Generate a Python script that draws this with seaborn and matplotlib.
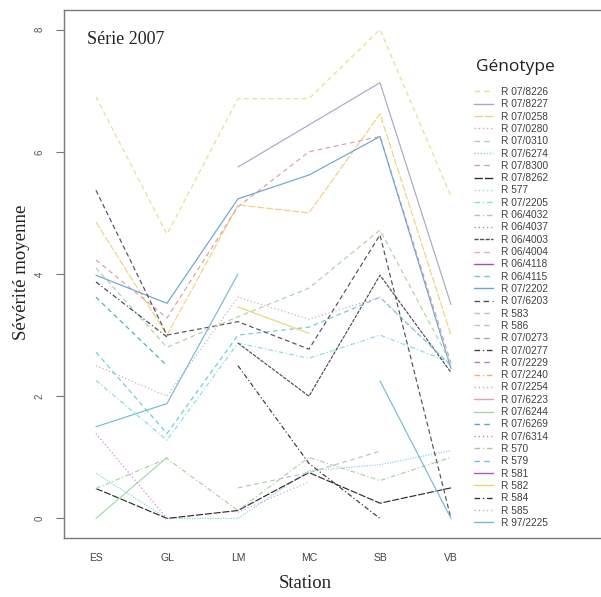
import numpy as np
import pandas as pd
import matplotlib
matplotlib.use("Agg")
import matplotlib.pyplot as plt
from matplotlib.lines import Line2D
import seaborn as sns

nan = np.nan

stations = ["ES", "GL", "LM", "MC", "SB", "VB"]

genotypes = [
    "R 07/8226", "R 07/8227", "R 07/0258", "R 07/0280", "R 07/0310", "R 07/6274",
    "R 07/8300", "R 07/8262", "R 577", "R 07/2205", "R 06/4032", "R 06/4037",
    "R 06/4003", "R 06/4004", "R 06/4118", "R 06/4115", "R 07/2202", "R 07/6203",
    "R 583", "R 586", "R 07/0273", "R 07/0277", "R 07/2229", "R 07/2240",
    "R 07/2254", "R 07/6223", "R 07/6244", "R 07/6269", "R 07/6314", "R 570",
    "R 579", "R 581", "R 582", "R 584", "R 585", "R 97/2225",
]

colors = [
    "#ecdc8a", "#aaa6c6", "#f2d27a", "#d2a8b8", "#b6cdb2", "#86d2e2",
    "#e09cae", "#2e2e2e", "#92d4e2", "#88dce8", "#a6d2a0", "#8c9cbc",
    "#4e4e58", "#e8a8c4", "#b048b4", "#6ccadc", "#68a8d4", "#52525e",
    "#c2bec2", "#a8d4a4", "#a8a8b2", "#42424c", "#b678d2", "#f0b65a",
    "#c6acbc", "#e89cc2", "#a6d8a6", "#58a8c2", "#d67ed2", "#a6c4b2",
    "#66c8e0", "#b058c2", "#f2d26e", "#383842", "#ccaecc", "#76bada",
]

styles = [
    (4, 3), "", (6, 1.5), (1, 2), (4, 3), (1, 1.2),
    (4, 3), (6, 1.5), (1, 2), (4, 2, 1, 2), (4, 2, 1, 2), (1, 2),
    (3, 1), (4, 3), "", (4, 3), "", (4, 2.5),
    (4, 3), (4, 3), (4, 3), (4, 2, 1, 2), (4, 3), (4, 2, 1, 2),
    (1, 2), "", "", (4, 3), (1, 2), (4, 2, 1, 2),
    (4, 3), "", "", (4, 2, 1, 2), (1, 2), "",
]

# mean severity per station (ES, GL, LM, MC, SB, VB)
r07_8226 = [6.9, 4.65, 6.87, 6.87, 8.0, 5.27]
r07_8227 = [nan, nan, 5.75, 6.44, 7.13, 3.5]
r07_0258 = [4.85, 3.0, 5.13, 5.0, 6.62, 3.0]
r07_0280 = [2.5, 2.0, 3.62, 3.26, 3.62, 2.5]
r07_6274 = [0.74, 0.0, 0.0, 0.78, 0.88, 1.11]
r07_8300 = [4.23, 3.28, 5.1, 6.0, 6.25, 2.54]
r07_8262 = [0.49, 0.0, 0.13, 0.75, 0.25, 0.5]
r07_2205 = [2.26, 1.28, 2.87, 2.62, 3.0, 2.55]
r06_4032 = [0.49, 0.98, 0.13, 1.0, 0.62, 1.0]
r06_4003 = [nan, nan, 2.87, 2.0, 3.98, 2.39]
r06_4115 = [2.72, 1.39, 3.0, 3.13, 3.62, 2.5]
r07_2202 = [3.98, 3.52, 5.23, 5.62, 6.25, 2.45]
r07_6203 = [5.37, 3.0, 3.22, 2.77, 4.64, 0.0]
r583 = [nan, nan, 0.5, 0.75, 1.1, nan]
r586 = [4.1, 2.8, 3.3, 3.77, 4.72, 2.54]
r07_0277 = [3.87, 2.97, nan, nan, nan, nan]
r07_6244 = [0.0, 1.0, nan, nan, nan, nan]
r07_6269 = [3.62, 2.5, nan, nan, nan, nan]
r07_6314 = [1.39, 0.0, nan, nan, nan, nan]
r582 = [nan, nan, 3.46, 3.03, nan, nan]
r584 = [nan, nan, 2.5, 0.9, 0.0, nan]
r585 = [nan, nan, 0.1, 0.6, nan, nan]
r97_2225 = [1.5, 1.88, 4.0, nan, 2.25, 0.0]

severity = {
    "R 07/8226": r07_8226, "R 07/8227": r07_8227, "R 07/0258": r07_0258,
    "R 07/0280": r07_0280, "R 07/6274": r07_6274, "R 07/8300": r07_8300,
    "R 07/8262": r07_8262, "R 07/2205": r07_2205, "R 06/4032": r06_4032,
    "R 06/4003": r06_4003, "R 06/4115": r06_4115, "R 07/2202": r07_2202,
    "R 07/6203": r07_6203, "R 583": r583, "R 586": r586, "R 07/0277": r07_0277,
    "R 07/6244": r07_6244, "R 07/6269": r07_6269, "R 07/6314": r07_6314,
    "R 582": r582, "R 584": r584, "R 585": r585, "R 97/2225": r97_2225,
}

# long table, one "segment" per unbroken run (NA breaks the line like in R)
rows = []
for g, vals in severity.items():
    seg = 0
    gap = True
    for i, v in enumerate(vals):
        if np.isnan(v):
            gap = True
            continue
        if gap:
            seg += 1
        gap = False
        rows.append({"genotype": g, "segment": f"{g}#{seg}", "pos": i, "value": v})
df = pd.DataFrame(rows)

sns.set_style("white")
plt.rcParams["font.family"] = ["Liberation Sans", "DejaVu Sans"]

W, H = 601, 597
fig = plt.figure(figsize=(W / 100, H / 100), dpi=100)
ax = fig.add_axes([64 / W, 59 / H, (620 - 64) / W, 528 / H])

present = [g for g in genotypes if g in severity]
pal = {g: c for g, c in zip(genotypes, colors)}
dash = {g: s for g, s in zip(genotypes, styles)}

sns.lineplot(
    data=df, x="pos", y="value",
    hue="genotype", style="genotype", units="segment",
    hue_order=present, style_order=present,
    palette={g: pal[g] for g in present},
    dashes={g: dash[g] for g in present},
    estimator=None, sort=False, linewidth=0.85, legend=False, ax=ax,
)

ax.set_xlim(-0.45, 7.38)
ax.set_ylim(-0.32, 8.32)
ax.set_xticks(range(len(stations)))
ax.set_xticklabels(stations)
ax.set_yticks([0, 2, 4, 6, 8])
ax.tick_params(axis="x", length=0, pad=11, labelsize=7.5, labelcolor="#444444")
ax.tick_params(axis="y", left=True, length=6, width=0.8, color="#777777",
               pad=8, labelsize=7, labelcolor="#555555", labelrotation=90)
for t in ax.get_yticklabels():
    t.set_va("center")
for sp in ax.spines.values():
    sp.set_color("#7a7a7a")
    sp.set_linewidth(1.0)

serif = ["Liberation Serif", "DejaVu Serif"]
ax.set_xlabel("")
ax.set_ylabel("")
fig.text(305 / W, 1 - 584 / H, "Station", family=serif, fontsize=13.5,
         ha="center", va="center", color="#222222")
fig.text(22 / W, 1 - 272 / H, "Sévérité moyenne", family=serif, fontsize=13.5,
         rotation=90, ha="center", va="center", color="#222222")
fig.text(87 / W, 1 - 40 / H, "Série 2007", family=serif, fontsize=13,
         ha="left", va="center", color="#222222")
fig.text(476 / W, 1 - 67 / H, "Génotype", family=["Open Sans", "DejaVu Sans"],
         fontsize=12.5, ha="left", va="center", color="#222222")

handles = [Line2D([], [], color=c, lw=1.0,
                  linestyle="-" if s == "" else (0, s))
           for c, s in zip(colors, styles)]
leg = fig.legend(
    handles, genotypes,
    loc="upper left", bbox_to_anchor=(474 / W, 1 - 87 / H),
    frameon=False, fontsize=7.3,
    handlelength=1.9, handletextpad=0.8, labelspacing=0.228,
    borderpad=0, borderaxespad=0,
)
for t in leg.get_texts():
    t.set_color("#404040")

fig.savefig("out.png", dpi=100)
